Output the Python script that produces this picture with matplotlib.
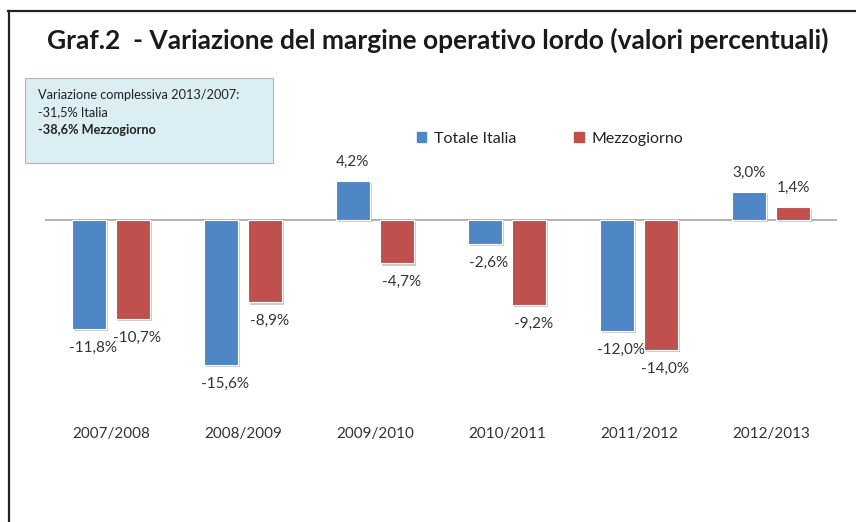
import numpy as np
import matplotlib.pyplot as plt
import matplotlib.patheffects as pe
from matplotlib.lines import Line2D
from matplotlib.patches import Rectangle

# data
periodi = ["2007/2008", "2008/2009", "2009/2010", "2010/2011", "2011/2012", "2012/2013"]
totale_italia = [-11.8, -15.6, 4.2, -2.6, -12.0, 3.0]
mezzogiorno = [-10.7, -8.9, -4.7, -9.2, -14.0, 1.4]
serie_nomi = ["Totale Italia", "Mezzogiorno"]
colori = ["#4F86C6", "#C0504D"]

titolo = "Graf.2  - Variazione del margine operativo lordo (valori percentuali)"
nota = ["Variazione complessiva 2013/2007:", "-31,5% Italia", "-38,6% Mezzogiorno"]

W, H = 856, 522
plt.rcParams['font.family'] = ['Lato', 'DejaVu Sans']

fig = plt.figure(figsize=(W / 100, H / 100), dpi=100)

# frame: only top and left edges are visible in the crop
fig.add_artist(Line2D([8 / W, 1], [1 - 11 / H, 1 - 11 / H], color="#222222", lw=1.6))
fig.add_artist(Line2D([9 / W, 9 / W], [1 - 11 / H, 0], color="#222222", lw=1.6))

fig.text(438 / W, 1 - 40 / H, titolo, ha="center", va="center",
         fontsize=19, fontweight="bold", color="#1a1a1a")

# note box
fig.add_artist(Rectangle((25 / W, 1 - 163 / H), 248 / W, 85 / H,
                         facecolor="#DAEEF3", edgecolor="#B0B7BB", lw=0.8))
for i, riga in enumerate(nota):
    fig.text(38 / W, 1 - (95 + i * 17.5) / H, riga, ha="left", va="center",
             fontsize=9.2, color="#222222",
             fontweight="bold" if i == 2 else "normal")

ax = fig.add_axes([45 / W, 1 - 387 / H, 792 / W, 223 / H])
x = np.arange(len(periodi))
w = 0.26
shadow = [pe.SimplePatchShadow(offset=(1.5, -1.5), shadow_rgbFace="#999999", alpha=0.5), pe.Normal()]

for k, (vals, col) in enumerate([(totale_italia, colori[0]), (mezzogiorno, colori[1])]):
    pos = x + (k - 0.5) * 0.335
    bars = ax.bar(pos, vals, width=w, color=col, edgecolor="white", lw=0.8,
                  label=serie_nomi[k], zorder=3)
    for b in bars:
        b.set_path_effects(shadow)
    for p, v in zip(pos, vals):
        off = 13.5 if v > 0 else -13.5
        ax.annotate(f"{v:.1f}%".replace(".", ","), (p, v), xytext=(3 if v < 0 else 0, off),
                    textcoords="offset points", ha="center", va="center",
                    fontsize=11, color="#333333")

ax.axhline(0, color="#A6A6A6", lw=1.2, zorder=2)
ax.set_xlim(-0.5, len(periodi) - 0.5)
ax.set_ylim(-18, 6)
ax.set_yticks([])
ax.set_xticks(x)
ax.set_xticklabels(periodi, fontsize=11, color="#333333")
ax.tick_params(axis="x", length=0, pad=29)
for s in ax.spines.values():
    s.set_visible(False)
ax.patch.set_alpha(0)

# legend
fig.legend(handles=[Rectangle((0, 0), 1, 1, color=c) for c in colori], labels=serie_nomi,
           loc="center", bbox_to_anchor=(550 / W, 1 - 139 / H), ncol=2, frameon=False,
           fontsize=11.5, handlelength=0.6, handleheight=0.6, handletextpad=0.5,
           columnspacing=3.6, labelcolor="#222222")

fig.savefig("out.png", dpi=100)
